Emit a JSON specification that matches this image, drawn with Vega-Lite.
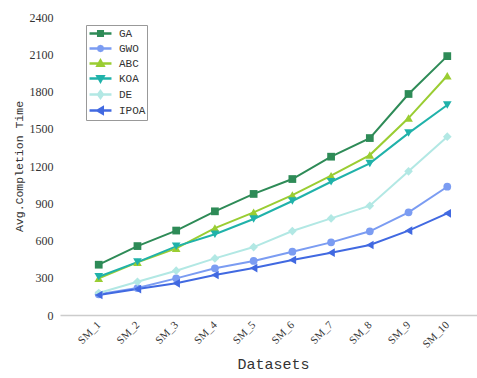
{
  "$schema": "https://vega.github.io/schema/vega-lite/v6.json",
  "width": 426,
  "height": 298,
  "autosize": {"type": "pad"},
  "padding": {"left": 13, "top": 11, "right": 0, "bottom": 4},
  "background": "white",
  "config": {
    "view": {"stroke": null},
    "axis": {"labelColor": "#333333", "titleColor": "#333333", "titleFontWeight": "normal", "grid": false, "ticks": false},
    "legend": {
      "orient": "none", "legendX": 26, "legendY": 8, "title": null,
      "symbolSize": 144, "symbolStrokeWidth": 2.5, "symbolOffset": 6,
      "labelFont": "Liberation Mono", "labelFontSize": 11, "labelColor": "#333333", "labelOffset": 11,
      "rowPadding": -3.3, "padding": 1, "strokeColor": "#999999", "fillColor": "white", "cornerRadius": 0
    }
  },
  "data": {
    "values": [
      {"ds": "SM_1", "alg": "GA", "v": 405}, {"ds": "SM_2", "alg": "GA", "v": 555}, {"ds": "SM_3", "alg": "GA", "v": 680}, {"ds": "SM_4", "alg": "GA", "v": 835}, {"ds": "SM_5", "alg": "GA", "v": 975}, {"ds": "SM_6", "alg": "GA", "v": 1095}, {"ds": "SM_7", "alg": "GA", "v": 1275}, {"ds": "SM_8", "alg": "GA", "v": 1425}, {"ds": "SM_9", "alg": "GA", "v": 1780}, {"ds": "SM_10", "alg": "GA", "v": 2085},
      {"ds": "SM_1", "alg": "GWO", "v": 167}, {"ds": "SM_2", "alg": "GWO", "v": 217}, {"ds": "SM_3", "alg": "GWO", "v": 295}, {"ds": "SM_4", "alg": "GWO", "v": 376}, {"ds": "SM_5", "alg": "GWO", "v": 435}, {"ds": "SM_6", "alg": "GWO", "v": 510}, {"ds": "SM_7", "alg": "GWO", "v": 585}, {"ds": "SM_8", "alg": "GWO", "v": 674}, {"ds": "SM_9", "alg": "GWO", "v": 827}, {"ds": "SM_10", "alg": "GWO", "v": 1033},
      {"ds": "SM_1", "alg": "ABC", "v": 295}, {"ds": "SM_2", "alg": "ABC", "v": 424}, {"ds": "SM_3", "alg": "ABC", "v": 537}, {"ds": "SM_4", "alg": "ABC", "v": 700}, {"ds": "SM_5", "alg": "ABC", "v": 827}, {"ds": "SM_6", "alg": "ABC", "v": 966}, {"ds": "SM_7", "alg": "ABC", "v": 1122}, {"ds": "SM_8", "alg": "ABC", "v": 1288}, {"ds": "SM_9", "alg": "ABC", "v": 1586}, {"ds": "SM_10", "alg": "ABC", "v": 1927},
      {"ds": "SM_1", "alg": "KOA", "v": 308}, {"ds": "SM_2", "alg": "KOA", "v": 426}, {"ds": "SM_3", "alg": "KOA", "v": 553}, {"ds": "SM_4", "alg": "KOA", "v": 650}, {"ds": "SM_5", "alg": "KOA", "v": 773}, {"ds": "SM_6", "alg": "KOA", "v": 918}, {"ds": "SM_7", "alg": "KOA", "v": 1073}, {"ds": "SM_8", "alg": "KOA", "v": 1221}, {"ds": "SM_9", "alg": "KOA", "v": 1465}, {"ds": "SM_10", "alg": "KOA", "v": 1691},
      {"ds": "SM_1", "alg": "DE", "v": 177}, {"ds": "SM_2", "alg": "DE", "v": 268}, {"ds": "SM_3", "alg": "DE", "v": 357}, {"ds": "SM_4", "alg": "DE", "v": 456}, {"ds": "SM_5", "alg": "DE", "v": 547}, {"ds": "SM_6", "alg": "DE", "v": 676}, {"ds": "SM_7", "alg": "DE", "v": 778}, {"ds": "SM_8", "alg": "DE", "v": 880}, {"ds": "SM_9", "alg": "DE", "v": 1157}, {"ds": "SM_10", "alg": "DE", "v": 1436},
      {"ds": "SM_1", "alg": "IPOA", "v": 161}, {"ds": "SM_2", "alg": "IPOA", "v": 209}, {"ds": "SM_3", "alg": "IPOA", "v": 255}, {"ds": "SM_4", "alg": "IPOA", "v": 322}, {"ds": "SM_5", "alg": "IPOA", "v": 378}, {"ds": "SM_6", "alg": "IPOA", "v": 443}, {"ds": "SM_7", "alg": "IPOA", "v": 502}, {"ds": "SM_8", "alg": "IPOA", "v": 564}, {"ds": "SM_9", "alg": "IPOA", "v": 679}, {"ds": "SM_10", "alg": "IPOA", "v": 819}
    ]
  },
  "encoding": {
    "x": {
      "field": "ds", "type": "ordinal",
      "sort": ["SM_1", "SM_2", "SM_3", "SM_4", "SM_5", "SM_6", "SM_7", "SM_8", "SM_9", "SM_10"],
      "scale": {"type": "point", "padding": 1},
      "axis": {
        "title": "Datasets", "titleFont": "Liberation Mono", "titleFontSize": 15, "titlePadding": 7,
        "labelAngle": -45, "labelAlign": "right", "labelBaseline": "middle", "labelPadding": 8,
        "labelFont": "Liberation Serif", "labelFontSize": 11,
        "domainColor": "#cccccc", "domainWidth": 1.5
      }
    },
    "y": {
      "field": "v", "type": "quantitative",
      "scale": {"domain": [0, 2400], "nice": false},
      "axis": {
        "title": "Avg.Completion Time", "titleFont": "Liberation Mono", "titleFontSize": 11.5, "titlePadding": 5,
        "values": [0, 300, 600, 900, 1200, 1500, 1800, 2100, 2400], "format": "d",
        "labelFont": "Liberation Serif", "labelFontSize": 12, "labelPadding": 7,
        "domain": false
      }
    },
    "color": {"field": "alg", "type": "nominal", "title": null,
      "scale": {"domain": ["GA", "GWO", "ABC", "KOA", "DE", "IPOA"], "range": ["#2e8b57", "#7b9cf2", "#9acd32", "#20b2aa", "#b2e8e4", "#4169e1"]}}
  },
  "layer": [
    {"mark": {"type": "line", "strokeWidth": 2}},
    {"transform": [{"filter": "datum.alg == 'GA'"}], "mark": {"type": "point", "filled": true, "opacity": 1, "size": 60, "shape": "square"}},
    {"transform": [{"filter": "datum.alg == 'GWO'"}], "mark": {"type": "point", "filled": true, "opacity": 1, "size": 60, "shape": "circle"}},
    {"transform": [{"filter": "datum.alg == 'ABC'"}], "mark": {"type": "point", "filled": true, "opacity": 1, "size": 75, "shape": "triangle-up"}},
    {"transform": [{"filter": "datum.alg == 'KOA'"}], "mark": {"type": "point", "filled": true, "opacity": 1, "size": 75, "shape": "triangle-down"}},
    {"transform": [{"filter": "datum.alg == 'DE'"}], "mark": {"type": "point", "filled": true, "opacity": 1, "size": 75, "shape": "diamond"}},
    {"transform": [{"filter": "datum.alg == 'IPOA'"}], "mark": {"type": "point", "filled": true, "opacity": 1, "size": 75, "shape": "triangle-left"}},
    {
      "transform": [{"filter": "datum.v < 0"}],
      "mark": {"type": "point", "filled": false, "opacity": 1, "strokeWidth": 2.5},
      "encoding": {
        "shape": {"field": "alg", "type": "nominal", "title": null,
          "scale": {"domain": ["GA", "GWO", "ABC", "KOA", "DE", "IPOA"], "range": [
            "M-1.83,0H1.83M-0.38,-0.38H0.38V0.38H-0.38ZM-0.1,-0.1H0.1V0.1H-0.1Z",
            "M-1.83,0H1.83M0.4,0L0.28,0.28L0,0.4L-0.28,0.28L-0.4,0L-0.28,-0.28L0,-0.4L0.28,-0.28ZM-0.1,-0.1H0.1V0.1H-0.1Z",
            "M-1.83,0H1.83M0,-0.5L0.5,0.38L-0.5,0.38ZM0,0.05L0.1,0.2L-0.1,0.2Z",
            "M-1.83,0H1.83M0,0.5L0.5,-0.38L-0.5,-0.38ZM0,-0.05L0.1,-0.2L-0.1,-0.2Z",
            "M-1.83,0H1.83M0,-0.55L0.4,0L0,0.55L-0.4,0ZM0,-0.12L0.08,0L0,0.12L-0.08,0Z",
            "M-1.83,0H1.83M-0.5,0L0.38,-0.5L0.38,0.5ZM0.05,0L0.2,-0.1L0.2,0.1Z"
          ]}}
      }
    }
  ]
}
